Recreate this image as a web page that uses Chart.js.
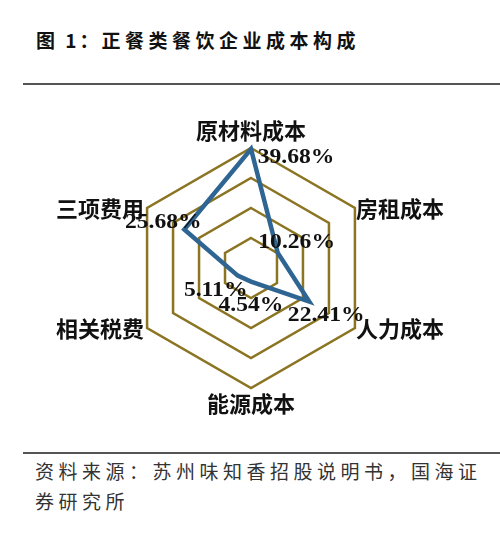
<!DOCTYPE html>
<html>
<head>
<meta charset="utf-8">
<script src="https://cdn.jsdelivr.net/npm/chart.js@4"></script>
<style>
  body { margin: 0; width: 500px; height: 535px; background: #fff; position: relative; overflow: hidden; }
  .title { position: absolute; left: 36px; top: 26px; font: bold 19px "Noto Sans CJK SC", sans-serif; color: #111; white-space: nowrap; letter-spacing: 3px; }
  .title .sp { letter-spacing: 4.5px; }
  .rule { position: absolute; left: 23px; right: 0; height: 0; border-top: 2px solid #555; }
  .source { position: absolute; left: 35px; top: 456px; width: 455px; font: 19px "Noto Sans CJK SC", sans-serif; color: #333; letter-spacing: 4.5px; line-height: 30px; }
  #chart { position: absolute; left: 0; top: 100px; }
</style>
</head>
<body>
<div class="title">图&nbsp;1：<span class="sp">正餐类餐饮企业成本构成</span></div>
<div class="rule" style="top:83px"></div>
<canvas id="chart" width="500" height="340"></canvas>
<div class="rule" style="top:452px"></div>
<div class="source">资料来源：苏州味知香招股说明书，国海证券研究所</div>
<script>
// categories go clockwise from the top
const categories = ["原材料成本", "房租成本", "人力成本", "能源成本", "相关税费", "三项费用"];
const shares = [39.68, 10.26, 22.41, 4.54, 5.11, 25.68];
const ringTicks = [0, 10, 20, 30, 40];

// where each value label sits relative to its point (px)
const valueLabelShift = [[45, 9], [19, -10], [17, 14], [0, 24], [-22, 15], [-21, -7]];

const labelPlugin = {
  id: "radarLabels",
  afterDatasetsDraw(chart) {
    const { ctx } = chart;
    const scale = chart.scales.r;
    const n = categories.length;

    // category names at the outer ring vertices
    ctx.save();
    ctx.fillStyle = "#111";
    ctx.font = "bold 22px 'Noto Sans CJK SC', sans-serif";
    categories.forEach((name, i) => {
      const p = scale.getPointPosition(i, scale.drawingArea);
      const ang = (360 / n) * i;
      if (ang === 0) {
        ctx.textAlign = "center"; ctx.textBaseline = "bottom";
        ctx.fillText(name, p.x, p.y - 6);
      } else if (ang === 180) {
        ctx.textAlign = "center"; ctx.textBaseline = "top";
        ctx.fillText(name, p.x, p.y + 5);
      } else if (ang < 180) {
        ctx.textAlign = "left"; ctx.textBaseline = "middle";
        ctx.fillText(name, p.x + 1, p.y + 1);
      } else {
        ctx.textAlign = "right"; ctx.textBaseline = "middle";
        ctx.fillText(name, p.x - 3, p.y + 1);
      }
    });

    // percentage labels next to each data point (slightly widened serif)
    ctx.font = "bold 20px 'Liberation Serif', serif";
    ctx.textAlign = "center";
    ctx.textBaseline = "middle";
    shares.forEach((v, i) => {
      const p = scale.getPointPositionForValue(i, v);
      const [dx, dy] = valueLabelShift[i];
      ctx.save();
      ctx.translate(p.x + dx, p.y + dy);
      ctx.scale(1.18, 1);
      ctx.fillText(v.toFixed(2) + "%", 0, 0);
      ctx.restore();
    });
    ctx.restore();
  }
};

new Chart(document.getElementById("chart"), {
  type: "radar",
  data: {
    labels: categories,
    datasets: [{
      data: shares,
      borderColor: "#2f6593",
      borderWidth: 4.5,
      borderJoinStyle: "miter",
      fill: false,
      pointRadius: 0,
      pointHoverRadius: 0
    }]
  },
  options: {
    responsive: false,
    animation: false,
    layout: { padding: { left: 131, right: 129, top: 48, bottom: 52 } },
    plugins: { legend: { display: false }, tooltip: { enabled: false } },
    scales: {
      r: {
        min: ringTicks[0],
        max: ringTicks[ringTicks.length - 1],
        ticks: { display: false, stepSize: ringTicks[1] - ringTicks[0] },
        grid: { color: "#8b7422", lineWidth: 2.5, circular: false },
        angleLines: { display: false },
        pointLabels: { display: false }
      }
    }
  },
  plugins: [labelPlugin]
});
</script>
</body>
</html>
